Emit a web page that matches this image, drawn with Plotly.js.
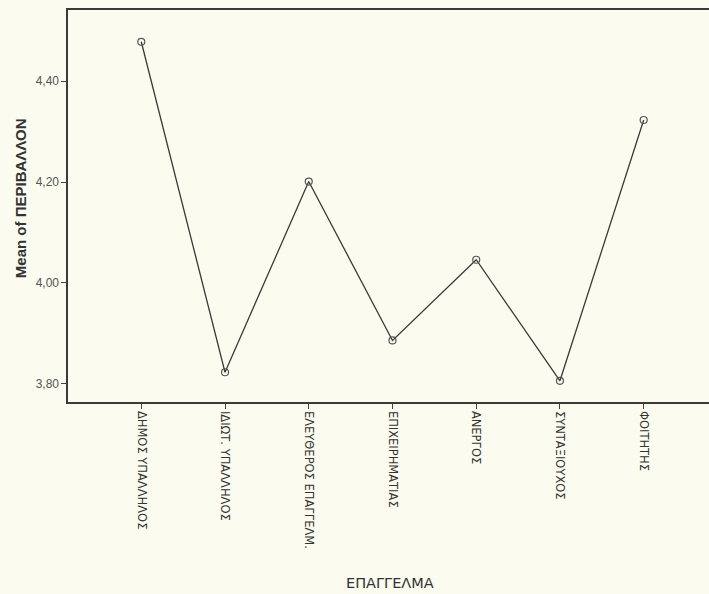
<!DOCTYPE html>
<html>
<head>
<meta charset="utf-8">
<script src="https://cdn.plot.ly/plotly-3.0.1.min.js"></script>
<style>html,body{margin:0;padding:0;background:#fbfbef;}</style>
</head>
<body>
<div id="chart" style="width:709px;height:594px;"></div>
<script>
const categories = ["ΔΗΜΟΣ ΥΠΑΛΛΗΛΟΣ", "ΙΔΙΩΤ. ΥΠΑΛΛΗΛΟΣ", "ΕΛΕΥΘΕΡΟΣ ΕΠΑΓΓΕΛΜ.", "ΕΠΙΧΕΙΡΗΜΑΤΙΑΣ", "ΑΝΕΡΓΟΣ", "ΣΥΝΤΑΞΙΟΥΧΟΣ", "ΦΟΙΤΗΤΗΣ"];
const meanValues = [4.478, 3.823, 4.201, 3.886, 4.046, 3.806, 4.323];
const yTickVals = [3.8, 4.0, 4.2, 4.4];
const yTickText = ["3,80", "4,00", "4,20", "4,40"];
const xTitle = "ΕΠΑΓΓΕΛΜΑ";
const yTitle = "Mean of ΠΕΡΙΒΑΛΛΟΝ";

const bg = "#fbfbef";
const trace = {
  type: "scatter",
  mode: "lines+markers",
  x: categories,
  y: meanValues,
  line: {color: "#3a3a3a", width: 1.3},
  marker: {symbol: "circle-open", size: 7, color: "#555555", line: {width: 1.2, color: "#555555"}},
  hoverinfo: "x+y"
};

const layout = {
  width: 709,
  height: 594,
  paper_bgcolor: bg,
  plot_bgcolor: bg,
  margin: {l: 68, r: 0, t: 10, b: 192},
  showlegend: false,
  font: {family: "DejaVu Sans, Arial, sans-serif", color: "#333"},
  xaxis: {
    type: "category",
    range: [-0.875, 6.78],
    showline: true,
    mirror: true,
    linecolor: "#3a3a3a",
    linewidth: 1.6,
    showgrid: false,
    zeroline: false,
    ticks: "outside",
    ticklen: 5,
    tickwidth: 1,
    tickcolor: "#444",
    tickangle: 90,
    tickfont: {family: "DejaVu Sans, sans-serif", size: 11.5, color: "#333"},
    automargin: false
  },
  yaxis: {
    range: [3.764, 4.541],
    showline: true,
    mirror: false,
    linecolor: "#3a3a3a",
    linewidth: 1.6,
    showgrid: false,
    zeroline: false,
    ticks: "outside",
    ticklen: 5,
    tickwidth: 1,
    tickcolor: "#444",
    tickvals: yTickVals,
    ticktext: yTickText,
    tickfont: {family: "Liberation Sans, Arial, sans-serif", size: 12, color: "#555"},
    automargin: false
  },
  annotations: [
    {
      text: "<b>" + yTitle + "</b>", xref: "paper", yref: "paper",
      x: -0.0749, y: 0.52, xanchor: "center", yanchor: "middle",
      textangle: -90, showarrow: false,
      font: {family: "Liberation Sans, Arial, sans-serif", size: 15, color: "#333"}
    },
    {
      text: xTitle, xref: "paper", yref: "paper",
      x: 0.502, y: -0.4617, xanchor: "center", yanchor: "middle",
      showarrow: false,
      font: {family: "DejaVu Sans, sans-serif", size: 14.5, color: "#333"}
    }
  ]
};

Plotly.newPlot("chart", [trace], layout, {displayModeBar: false, staticPlot: true});
</script>
</body>
</html>
